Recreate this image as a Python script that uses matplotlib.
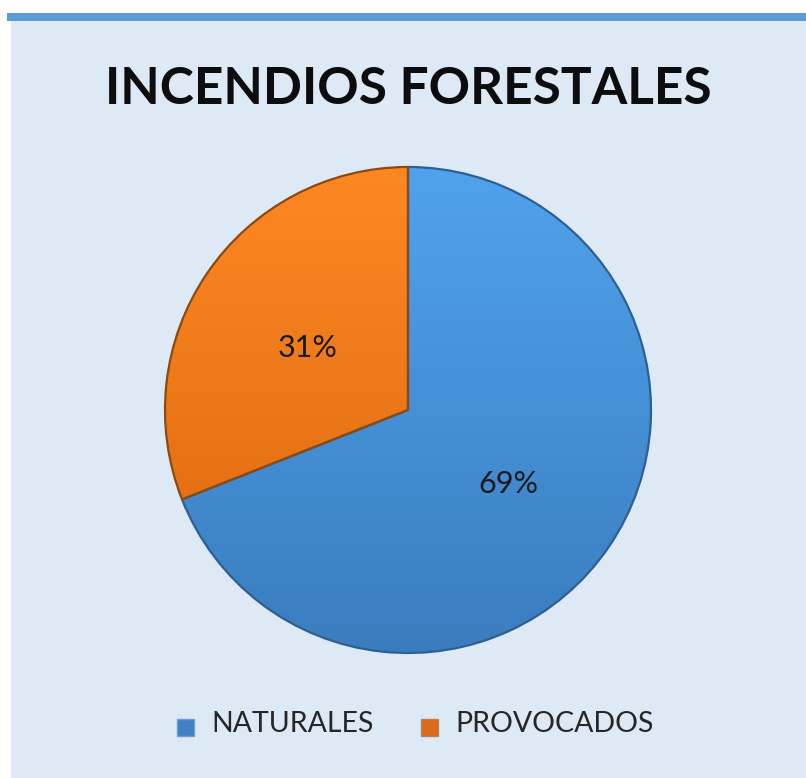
import matplotlib
matplotlib.use("Agg")
import matplotlib.pyplot as plt
import numpy as np
from matplotlib.patches import Rectangle
from matplotlib.colors import to_rgb

categories = ["NATURALES", "PROVOCADOS"]
values = [69, 31]
colors = ["#4690da", "#f57b1c"]
legend_colors = ["#3f80c4", "#dc6a1a"]
grad_top = ["#50a2ec", "#fd8822"]
grad_bottom = ["#3a7dbf", "#db660e"]
edge_colors = ["#2f5f92", "#8a4a14"]
title = "INCENDIOS FORESTALES"

W, H, DPI = 806, 778, 100
fig = plt.figure(figsize=(W / DPI, H / DPI), dpi=DPI)
fig.patch.set_facecolor("white")

# background panel and top band
fig.add_artist(Rectangle((11 / W, 0), 1 - 11 / W, 1 - 21 / H, transform=fig.transFigure,
                         facecolor="#dde9f5", edgecolor="none", zorder=0))
fig.add_artist(Rectangle((7 / W, 1 - 21 / H), 1 - 7 / W, 8 / H, transform=fig.transFigure,
                         facecolor="#5b9bd5", edgecolor="none", zorder=0))

fig.text(408 / W, 1 - 90 / H, title, ha="center", va="center",
         fontsize=37, fontweight="bold", family=["Lato", "DejaVu Sans"], color="#0d0d0d")

# pie axes: center (408,410), radius ~243
r = 243
ax = fig.add_axes([(408 - r) / W, 1 - (410 + r) / H, 2 * r / W, 2 * r / H])
ax.set_facecolor("none")
wedges, texts, autotexts = ax.pie(values, colors=colors, startangle=90, counterclock=False,
                                   autopct="%1.0f%%", pctdistance=0.50,
                                   wedgeprops=dict(linewidth=1.6),
                                   textprops=dict(fontsize=22, color="#1a1a1a",
                                                  family=["Lato", "DejaVu Sans"]))
for w, ec, top, bot in zip(wedges, edge_colors, grad_top, grad_bottom):
    w.set_edgecolor(ec)
    t = np.linspace(0, 1, 256)[:, None]
    c0, c1 = np.array(to_rgb(top)), np.array(to_rgb(bot))
    img = (1 - t)[..., None] * c0 + t[..., None] * c1
    img = np.repeat(img, 2, axis=1)
    im = ax.imshow(img, extent=(-1, 1, -1, 1), origin="upper", aspect="auto", zorder=1.5)
    im.set_clip_path(w)
for w in wedges:
    w.set_zorder(2)
    w.set_facecolor("none")
for a in autotexts:
    a.set_zorder(3)
    x, y = a.get_position()
    a.set_position((x, y - 0.025))
ax.set_xlim(-1.0, 1.0)
ax.set_ylim(-1.0, 1.0)
ax.set_aspect("equal")
ax.axis("off")

# legend
ly = 1 - 724 / H
sq = 17
for xs, xt, lab, col, ec in [(177, 211, categories[0], legend_colors[0], "#6a9fd6"),
                             (421, 455, categories[1], legend_colors[1], "#b58060")]:
    fig.add_artist(Rectangle((xs / W, 1 - 736 / H), sq / W, sq / H, transform=fig.transFigure,
                             facecolor=col, edgecolor=ec, lw=1.0))
    fig.text(xt / W, ly, lab, ha="left", va="center", fontsize=20.5,
             family=["Lato", "DejaVu Sans"], color="#262626")

fig.savefig("out.png", dpi=DPI)
